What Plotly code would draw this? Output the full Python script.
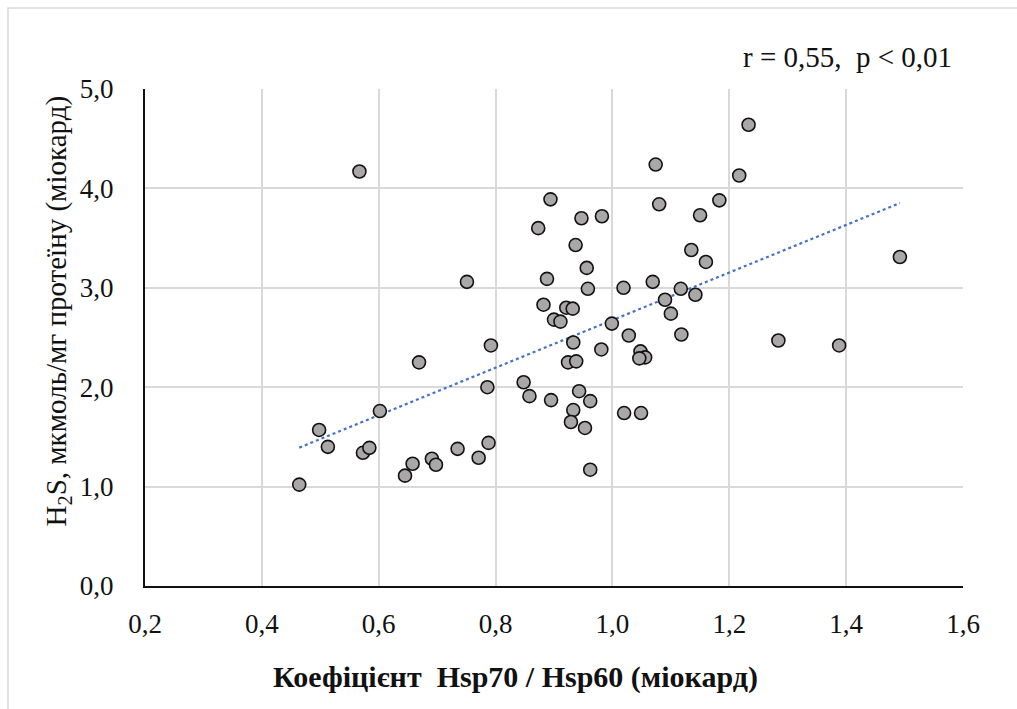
import numpy as np
import plotly.graph_objects as go

# Data
hsp_ratio = [0.567, 0.873, 0.894, 0.888, 0.882, 0.751, 0.792, 0.669, 0.786, 0.848,
             0.858, 0.602, 0.498, 0.513, 0.573, 0.584, 0.464, 0.645, 0.658, 0.691,
             0.698, 0.735, 0.771, 0.788, 0.947, 0.982, 0.937, 0.956, 0.958, 1.019,
             1.069, 1.080, 1.074, 1.150, 1.183, 1.135, 1.160, 1.117, 1.090, 1.142,
             1.100, 1.118, 0.921, 0.932, 0.900, 0.911, 0.999, 1.028, 0.933, 0.981,
             1.048, 1.056, 1.046, 0.924, 0.938, 0.895, 0.943, 0.962, 0.933, 0.929,
             0.953, 1.020, 1.049, 0.962, 1.233, 1.217, 1.492, 1.284, 1.388]
h2s = [4.17, 3.60, 3.89, 3.09, 2.83, 3.06, 2.42, 2.25, 2.00, 2.05,
       1.91, 1.76, 1.57, 1.40, 1.34, 1.39, 1.02, 1.11, 1.23, 1.28,
       1.22, 1.38, 1.29, 1.44, 3.70, 3.72, 3.43, 3.20, 2.99, 3.00,
       3.06, 3.84, 4.24, 3.73, 3.88, 3.38, 3.26, 2.99, 2.88, 2.93,
       2.74, 2.53, 2.80, 2.79, 2.68, 2.66, 2.64, 2.52, 2.45, 2.38,
       2.36, 2.30, 2.29, 2.25, 2.26, 1.87, 1.96, 1.86, 1.77, 1.65,
       1.59, 1.74, 1.74, 1.17, 4.64, 4.13, 3.31, 2.47, 2.42]

x_ticks = [0.2, 0.4, 0.6, 0.8, 1.0, 1.2, 1.4, 1.6]
y_ticks = [0.0, 1.0, 2.0, 3.0, 4.0, 5.0]

x_arr = np.array(hsp_ratio)
y_arr = np.array(h2s)
slope, intercept = np.polyfit(x_arr, y_arr, 1)
trend_x = np.array([x_arr.min(), x_arr.max()])
trend_y = slope * trend_x + intercept

FONT = "Liberation Serif, Times New Roman, serif"
NB = "\u00a0"

fig = go.Figure()
fig.add_trace(go.Scatter(
    x=trend_x, y=trend_y, mode="lines",
    line=dict(color="#4472C4", width=2.2, dash="dot"),
    hoverinfo="skip", showlegend=False))
fig.add_trace(go.Scatter(
    x=hsp_ratio, y=h2s, mode="markers",
    marker=dict(size=13, color="#a9a7a7", line=dict(color="#111111", width=1.6)),
    showlegend=False))

fig.update_layout(
    width=1017, height=709,
    margin=dict(l=145, r=54, t=89, b=123),
    paper_bgcolor="white", plot_bgcolor="white",
    separators=", ",
    font=dict(family=FONT, size=27, color="#111111"),
    xaxis=dict(range=[0.2, 1.6], tickvals=x_ticks, tickformat=".1f",
               showgrid=True, gridcolor="#d9d9d9", gridwidth=1.5,
               showline=True, linecolor="#111111", linewidth=2,
               zeroline=False, ticks="", ticklabelstandoff=13,
               tickfont=dict(family=FONT, size=27)),
    yaxis=dict(range=[0, 5], tickvals=y_ticks, tickformat=".1f",
               showgrid=True, gridcolor="#d9d9d9", gridwidth=1.5,
               showline=True, linecolor="#111111", linewidth=2,
               zeroline=False, ticks="", ticklabelstandoff=24,
               tickfont=dict(family=FONT, size=27)),
    shapes=[dict(type="rect", xref="paper", yref="paper",
                 x0=-0.1675, y0=-0.3, x1=1.2, y1=1.163,
                 line=dict(color="#d9d9d9", width=1.5), layer="below")],
    annotations=[
        dict(text="<b>Коефіцієнт" + NB + NB + "Hsp70 / Hsp60 (міокард)</b>",
             xref="paper", yref="paper", x=0.4535, y=-0.183,
             xanchor="center", yanchor="middle", showarrow=False,
             font=dict(family=FONT, size=30)),
        dict(text="H<sub>2</sub>S, мкмоль/мг протеїну (міокард)",
             xref="paper", yref="paper", x=-0.106, y=0.553,
             xanchor="center", yanchor="middle", textangle=-90, showarrow=False,
             font=dict(family=FONT, size=29)),
        dict(text="r = 0,55," + NB + NB + "p < 0,01",
             xref="paper", yref="paper", x=0.859, y=1.064,
             xanchor="center", yanchor="middle", showarrow=False,
             font=dict(family=FONT, size=29)),
    ],
)

fig.write_html("out.html")
